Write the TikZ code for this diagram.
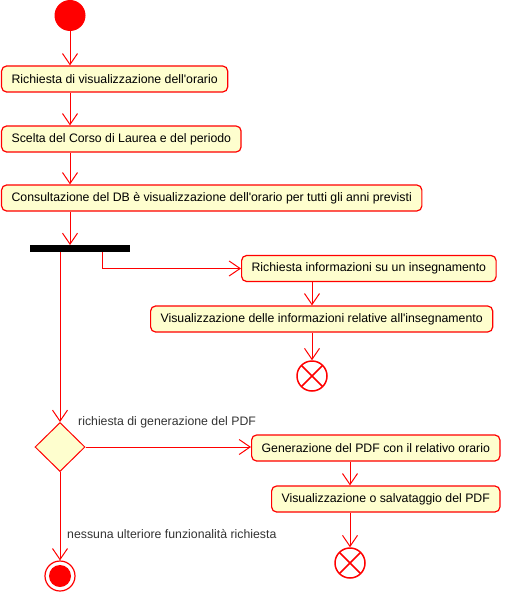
\documentclass[tikz,border=0pt]{standalone}
\usepackage{fontspec}
\setmainfont{Liberation Sans}
\usetikzlibrary{arrows.meta,shapes.geometric}
\definecolor{umlred}{HTML}{FF0000}
\definecolor{umlfill}{HTML}{FEFECE}
\definecolor{umlgrey}{HTML}{333333}
\tikzset{
	act/.style={draw=umlred,fill=umlfill,line width=1.2pt,rounded corners=5pt,anchor=west,minimum height=26pt,inner xsep=10pt,inner ysep=0pt,font=\fontsize{12.3}{14}\selectfont},
	flow/.style={draw=umlred,line width=1pt,->,>={Straight Barb[length=11pt,width=15pt]}},
	guard/.style={text=umlgrey,anchor=west,inner sep=0pt,font=\fontsize{12.3}{14}\selectfont},
	flowend/.style={circle,draw=umlred,line width=1.5pt,minimum size=30pt,inner sep=0pt,path picture={\draw[umlred,line width=1.5pt] (path picture bounding box.north west) -- (path picture bounding box.south east) (path picture bounding box.north east) -- (path picture bounding box.south west);}}
}
\begin{document}
\begin{tikzpicture}[x=1pt,y=-1pt]
	\useasboundingbox (0,0) rectangle (505,599);
	\node[circle,fill=umlred,minimum size=31pt,inner sep=0pt] (start) at (70,15.5) {};
	\node[act] (a1) at (1,79) {Richiesta di visualizzazione dell\textquotesingle orario};
	\node[act] (a2) at (1,139) {Scelta del Corso di Laurea e del periodo};
	\node[act] (a3) at (1,198) {Consultazione del DB è visualizzazione dell\textquotesingle orario per tutti gli anni previsti};
	\node[fill=black,minimum width=100pt,minimum height=7pt,inner sep=0pt,anchor=north west] (fork) at (30,245) {};
	\node[act] (a4) at (241,268.5) {Richiesta informazioni su un insegnamento};
	\node[act] (a5) at (150,319) {Visualizzazione delle informazioni relative all\textquotesingle insegnamento};
	\node[flowend] (e1) at (312,376) {};
	\node[diamond,draw=umlred,fill=umlfill,line width=1pt,minimum width=50pt,minimum height=49pt,inner sep=0pt] (dec) at (60,447) {};
	\node[act] (a6) at (251,448) {Generazione del PDF con il relativo orario};
	\node[act] (a7) at (271,499) {Visualizzazione o salvataggio del PDF};
	\node[flowend] (e2) at (350,563) {};
	\node[circle,draw=umlred,fill=white,line width=1.2pt,minimum size=30pt,inner sep=0pt,path picture={\fill[umlred] (path picture bounding box.center) circle (11pt);}] (fin) at (60,576) {};
	\node[guard] (g1) at (78,422) {richiesta di generazione del PDF};
	\node[guard] (g2) at (67,534) {nessuna ulteriore funzionalità richiesta};
	% connectors
	\draw[flow] (start) -- (start |- a1.north);
	\draw[flow] (start |- a1.south) -- (start |- a2.north);
	\draw[flow] (start |- a2.south) -- (start |- a3.north);
	\draw[flow] (start |- a3.south) -- (start |- fork.north);
	\draw[flow] (dec |- fork.south) -- (dec.north);
	\draw[flow] ([xshift=72pt]fork.south west) |- (a4.west);
	\draw[flow] (e1 |- a4.south) -- (e1 |- a5.north);
	\draw[flow] (e1 |- a5.south) -- (e1.north);
	\draw[flow] (dec.east) -- (dec.east -| a6.west);
	\draw[flow] (e2 |- a6.south) -- (e2 |- a7.north);
	\draw[flow] (e2 |- a7.south) -- (e2.north);
	\draw[flow] (dec.south) -- (fin.north);
\end{tikzpicture}
\end{document}
